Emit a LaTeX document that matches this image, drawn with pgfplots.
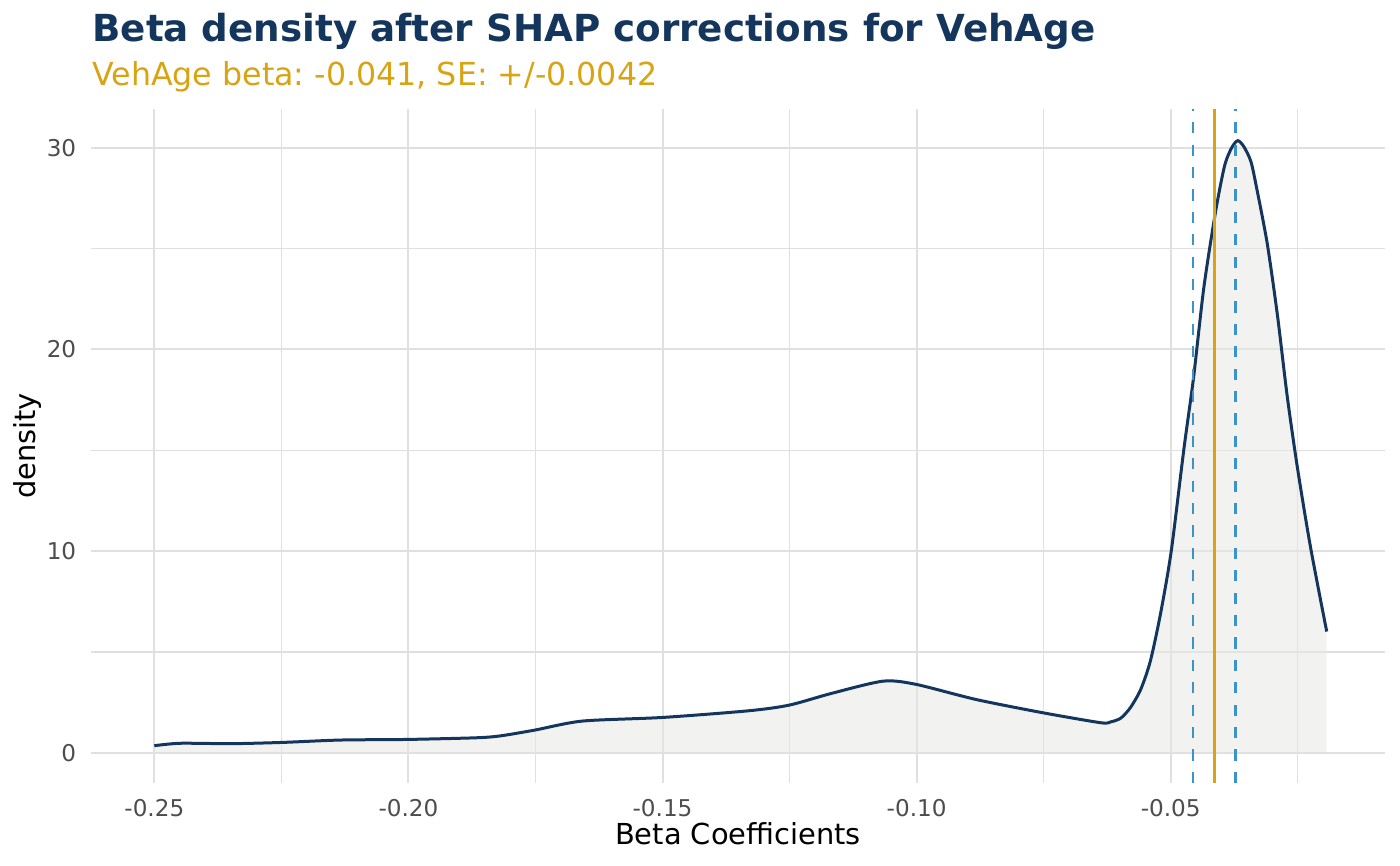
\documentclass[border=0pt]{standalone}
\usepackage{fontspec}
\setmainfont{DejaVu Sans}
\usepackage{pgfplots}
\pgfplotsset{compat=1.18}
\frenchspacing

\definecolor{navy}{HTML}{14365D}
\definecolor{gold}{HTML}{D8A413}
\definecolor{dashblue}{HTML}{3B93C8}
\definecolor{gridgray}{HTML}{E0E0E0}
\definecolor{tickgray}{HTML}{4D4D4D}
\definecolor{fillgray}{HTML}{E6E6E2}

\pgfplotstableread{
x y
-0.2500 0.35
-0.2449 0.47
-0.2349 0.45
-0.2250 0.51
-0.2134 0.63
-0.2002 0.66
-0.1869 0.74
-0.1821 0.83
-0.1752 1.12
-0.1658 1.57
-0.1500 1.75
-0.1331 2.08
-0.1251 2.36
-0.1168 2.94
-0.1066 3.55
-0.1001 3.39
-0.0883 2.64
-0.0751 1.98
-0.0638 1.49
-0.0618 1.53
-0.0598 1.72
-0.0579 2.25
-0.0559 3.14
-0.0540 4.55
-0.0520 6.90
-0.0499 9.99
-0.0474 15.07
-0.0455 18.61
-0.0435 23.03
-0.0412 26.79
-0.0394 29.10
-0.0380 30.00
-0.0368 30.35
-0.0356 30.05
-0.0342 29.30
-0.0330 27.89
-0.0310 25.24
-0.0290 21.70
-0.0271 17.73
-0.0251 14.19
-0.0225 10.21
-0.0193 6.01
}\density

\begin{document}
\begin{tikzpicture}
\path[use as bounding box] (-45.5bp,-41.5bp) rectangle (654.5bp,391.5bp);
\begin{axis}[
    scale only axis,
    width=647bp, height=337bp,
    xmin=-0.26246, xmax=-0.00783,
    ymin=-1.5, ymax=31.92,
    xtick={-0.25,-0.20,-0.15,-0.10,-0.05},
    xticklabels={-0.25,-0.20,-0.15,-0.10,-0.05},
    ytick={0,10,20,30},
    yticklabels={0,10,20,30},
    minor xtick={-0.225,-0.175,-0.125,-0.075,-0.025},
    minor ytick={5,15,25},
    grid=both,
    major grid style={draw=gridgray, line width=1bp},
    minor grid style={draw=gridgray, line width=0.6bp},
    axis line style={draw=none},
    major tick length=0pt, minor tick length=0pt,
    tick label style={font=\fontsize{11.6}{13}\selectfont, text=tickgray, inner sep=0pt},
    xticklabel shift=8bp,
    yticklabel shift=7.2bp,
    xlabel={Beta Coefficients},
    ylabel={density},
    label style={font=\fontsize{14.5}{16}\selectfont, text=black},
    xlabel style={at={(axis description cs:0.5,0)}, anchor=base, yshift=-31bp, inner sep=0pt},
    ylabel style={at={(axis description cs:0,0.5)}, anchor=center, yshift=31.5bp, inner sep=0pt},
]
\addplot[draw=none, fill=fillgray, fill opacity=0.5, smooth, tension=0.45] table {\density} \closedcycle;
\addplot[navy, line width=1.5bp, smooth, tension=0.45] table {\density};
\addplot[dashblue, line width=1.4bp, dash pattern=on 5.6bp off 5.6bp] coordinates {(-0.0456,-1.5) (-0.0456,31.92)};
\addplot[dashblue, line width=1.4bp, dash pattern=on 5.6bp off 5.6bp] coordinates {(-0.0372,-1.5) (-0.0372,31.92)};
\addplot[gold, line width=1.3bp] coordinates {(-0.0414,-1.5) (-0.0414,31.92)};
\end{axis}
\node[anchor=base west, inner sep=0pt, text=navy, font=\fontsize{18.7}{22}\selectfont\bfseries] at (0.5bp,370.6bp) {Beta density after SHAP corrections for VehAge};
\node[anchor=base west, inner sep=0pt, text=gold, font=\fontsize{15.9}{18}\selectfont] at (0.5bp,348.5bp) {VehAge beta: -0.041, SE: +/-0.0042};
\end{tikzpicture}
\end{document}
